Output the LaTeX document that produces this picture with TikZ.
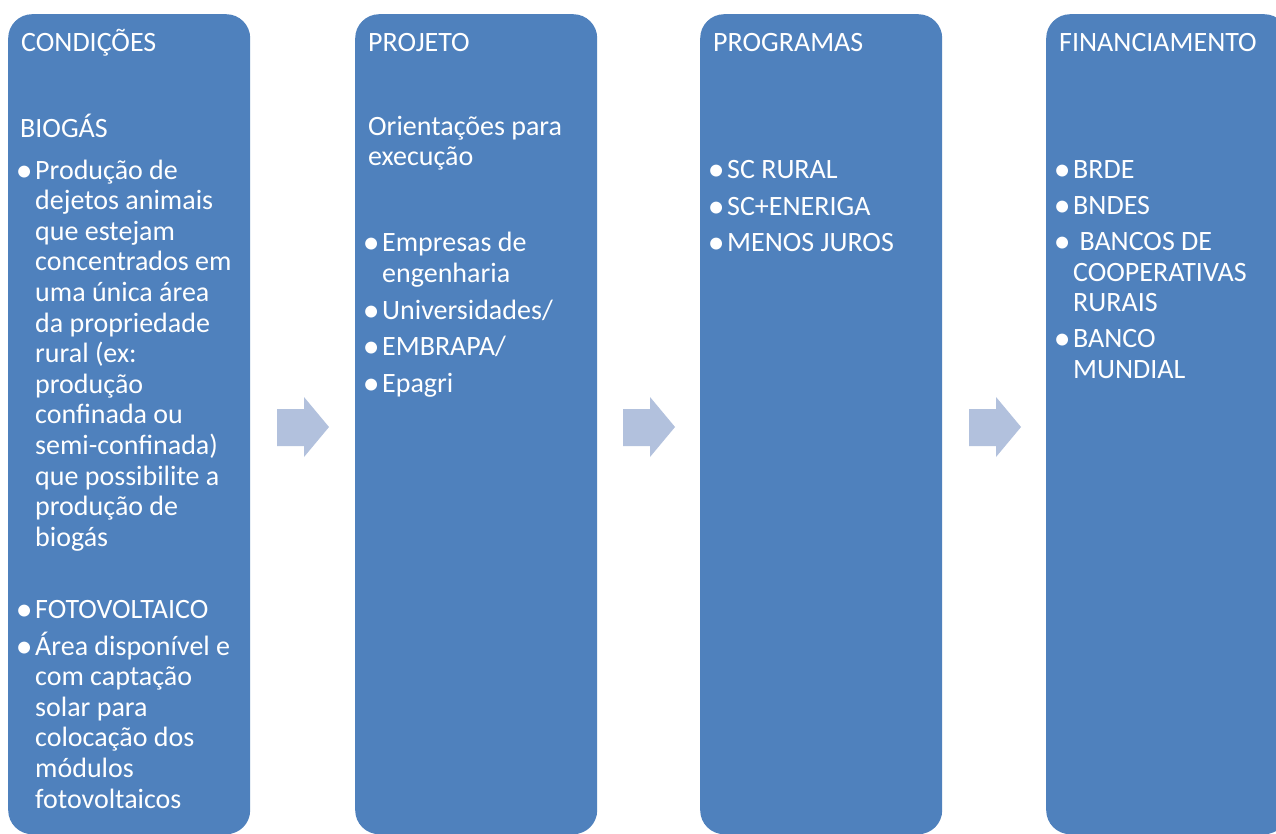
\documentclass[tikz,border=0pt]{standalone}
\usepackage{fontspec}
\setmainfont{Carlito}
\definecolor{boxblue}{RGB}{79,129,189}
\definecolor{arrowblue}{RGB}{178,193,221}
\newcommand\linestack[1]{\vtop{\baselineskip=30.6pt\lineskiplimit=-30pt\halign{##\hfil\cr#1\crcr}}}
\newcommand\bul{\llap{\smash{\raisebox{-2.2pt}{\scalebox{1.2}{•}}}\kern2.5pt}}
\begin{document}
\begin{tikzpicture}[x=1pt,y=-1pt,
  box/.style={fill=boxblue, rounded corners=24pt, minimum width=242pt, minimum height=820pt, anchor=north west, inner sep=0pt},
  txt/.style={anchor=base west, inner sep=0pt, text=white, font=\fontsize{28}{30.6}\selectfont},
  blockarrow/.style={fill=arrowblue}]
\clip (0,0) rectangle (1276,833);
\fill[white] (0,0) rectangle (1276,833);
% boxes
\node[box] (b1) at (8,14) {};
\node[box] (b2) at (355,14) {};
\node[box] (b3) at (700,14) {};
\node[box] (b4) at (1046,14) {};
% arrows
\foreach \dx in {0,346,692}{
  \fill[blockarrow] (277+\dx,409) -- (304+\dx,409) -- (304+\dx,397) -- (329+\dx,427) -- (304+\dx,457) -- (304+\dx,446) -- (277+\dx,446) -- cycle;
}
% box 1
\node[txt] (h1) at (21,51) {CONDIÇÕES};
\node[txt] (t1a) at (20,137) {BIOGÁS};
\node[txt] (t1b) at (35,179) {\linestack{\bul Produção de\cr dejetos animais\cr que estejam\cr concentrados em\cr uma única área\cr da propriedade\cr rural (ex:\cr produção\cr confinada ou\cr semi-confinada)\cr que possibilite a\cr produção de\cr biogás}};
\node[txt] (t1c) at (35,618) {\bul FOTOVOLTAICO};
\node[txt] (t1d) at (35,655) {\linestack{\bul Área disponível e\cr com captação\cr solar para\cr colocação dos\cr módulos\cr fotovoltaicos}};
% box 2
\node[txt] (h2) at (368,51) {PROJETO};
\node[txt] (t2a) at (368,135) {\linestack{Orientações para\cr execução}};
\node[txt] (t2b) at (382,251.5) {\linestack{\bul Empresas de\cr engenharia}};
\node[txt] (t2c) at (382,319) {\bul Universidades/};
\node[txt] (t2d) at (382,355.5) {\bul EMBRAPA/};
\node[txt] (t2e) at (382,392) {\bul Epagri};
% box 3
\node[txt] (h3) at (713,51) {PROGRAMAS};
\node[txt] (t3a) at (727,178.5) {\bul SC RURAL};
\node[txt] (t3b) at (727,215) {\bul SC+ENERIGA};
\node[txt] (t3c) at (727,251.5) {\bul MENOS JUROS};
% box 4
\node[txt] (h4) at (1059,51) {FINANCIAMENTO};
\node[txt] (t4a) at (1073,178.5) {\bul BRDE};
\node[txt] (t4b) at (1073,214.5) {\bul BNDES};
\node[txt] (t4c) at (1073,250.5) {\linestack{\bul\ BANCOS DE\cr COOPERATIVAS\cr RURAIS}};
\node[txt] (t4d) at (1073,347.5) {\linestack{\bul BANCO\cr MUNDIAL}};
\end{tikzpicture}
\end{document}
